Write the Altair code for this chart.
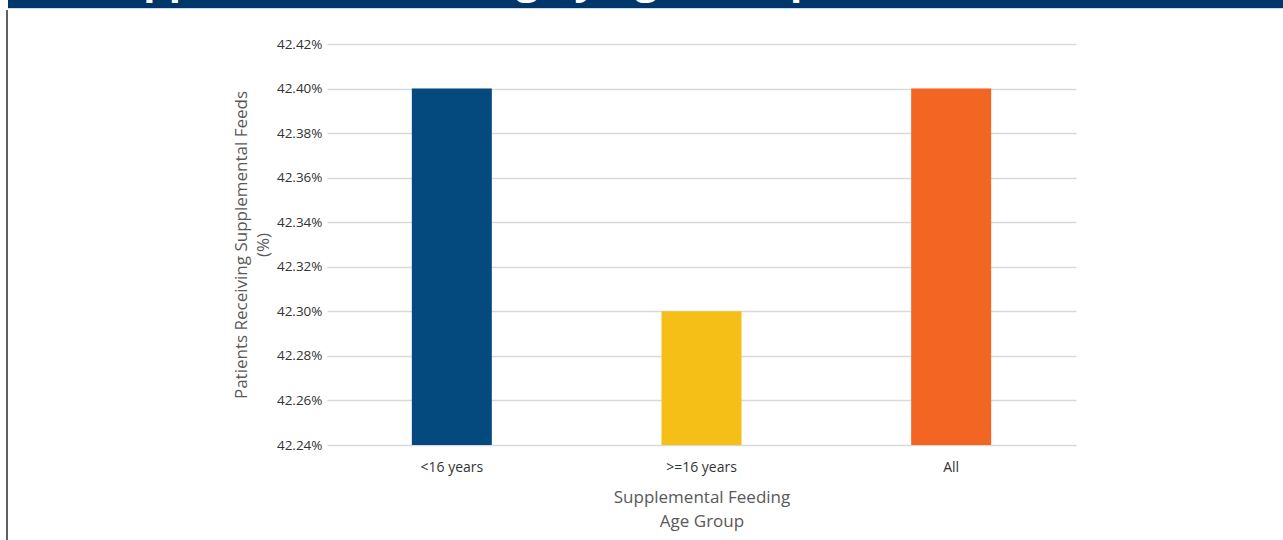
import altair as alt
import pandas as pd

# Share of patients receiving supplemental feeds, by age group
groups = ["<16 years", ">=16 years", "All"]
percent = [42.40, 42.30, 42.40]
colors = ["#044a7e", "#f5bf17", "#f26522"]

heading = "Supplemental Feeding by Age Group"
y_ticks = [42.24, 42.26, 42.28, 42.30, 42.32, 42.34, 42.36, 42.38, 42.40, 42.42]
y_floor = 42.24

FONT = "Open Sans"

df = pd.DataFrame({"group": groups, "percent": percent})

bars = alt.Chart(df).mark_bar(size=80).encode(
    x=alt.X(
        "group:N",
        sort=groups,
        scale=alt.Scale(paddingInner=0, paddingOuter=0),
        axis=alt.Axis(
            title=["Supplemental Feeding", "Age Group"],
            labelAngle=0,
            labelPadding=15,
            labelFontSize=14,
            labelColor="#333333",
            labelFont=FONT,
            titleFont=FONT,
            titleFontSize=17,
            titleFontWeight="normal",
            titleColor="#595959",
            titleLineHeight=24,
            titlePadding=15,
            domain=False,
            ticks=False,
        ),
    ),
    y=alt.Y(
        "percent:Q",
        scale=alt.Scale(domain=[y_ticks[0], y_ticks[-1]], zero=False, nice=False),
        axis=alt.Axis(
            title=["Patients Receiving Supplemental Feeds", "(%)"],
            values=y_ticks,
            labelExpr="format(datum.value, '.2f') + '%'",
            labelFontSize=13.5,
            labelColor="#333333",
            labelFont=FONT,
            labelPadding=5,
            titleFont=FONT,
            titleFontSize=17,
            titleFontWeight="normal",
            titleColor="#595959",
            titleLineHeight=22,
            titlePadding=4,
            domain=False,
            ticks=False,
            grid=True,
            gridColor="#d9d9d9",
            gridWidth=1.5,
        ),
    ),
    y2=alt.datum(y_floor),
    color=alt.Color("group:N", scale=alt.Scale(domain=groups, range=colors), legend=None),
)

# Header band across the top, with its heading mostly above the page
band = alt.Chart(alt.Data(values=[{}])).mark_rect(color="#00376b").encode(
    x=alt.value(-319), x2=alt.value(956), y=alt.value(-44), y2=alt.value(-36)
)
band_edge = alt.Chart(alt.Data(values=[{}])).mark_rule(color="#c9dcec", strokeWidth=1).encode(
    x=alt.value(-319), x2=alt.value(956), y=alt.value(-35.5)
)
band_text = alt.Chart(alt.Data(values=[{}])).mark_text(
    text=heading, font=FONT, fontSize=40, fontWeight="bold", color="white",
    align="left", baseline="alphabetic",
).encode(x=alt.value(-232), y=alt.value(-50))
left_rule = alt.Chart(alt.Data(values=[{}])).mark_rule(color="#2b2b2b", strokeWidth=1.5).encode(
    x=alt.value(-320), y=alt.value(-34), y2=alt.value(496)
)

chart = alt.layer(bars, band, band_edge, band_text, left_rule).properties(
    width=749,
    height=401,
    autosize=alt.AutoSizeParams(type="none"),
    padding={"left": 327, "top": 44, "right": 207, "bottom": 95},
    background="white",
).configure_view(stroke=None)

chart.save("out.html", embed_options={"renderer": "svg", "actions": False})
